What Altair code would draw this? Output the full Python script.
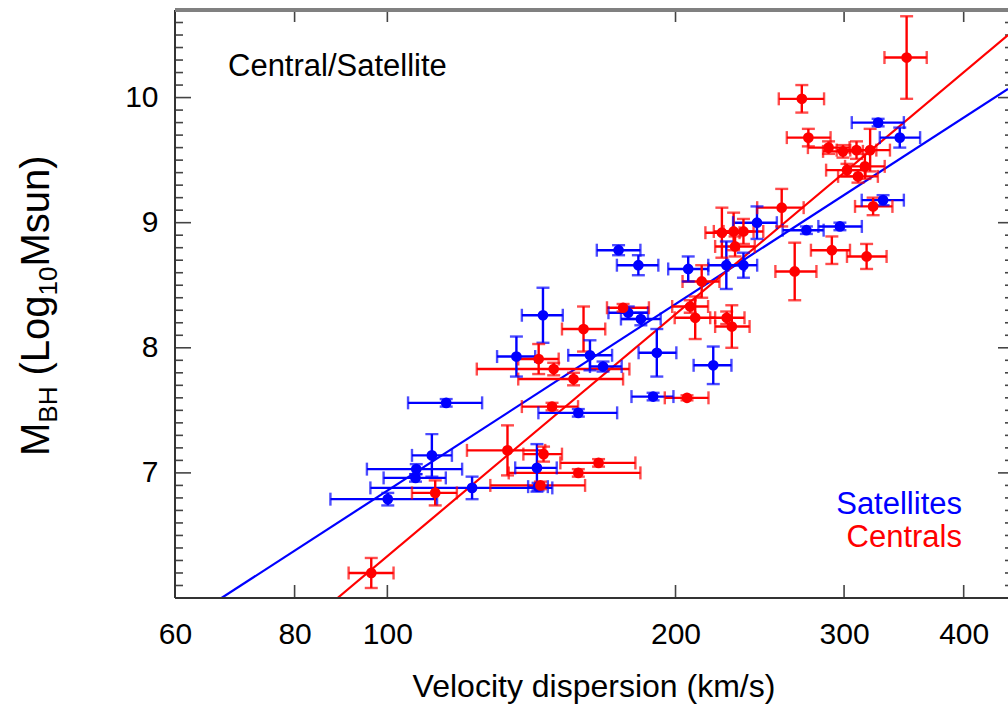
import altair as alt
import pandas as pd

# ---------------- data ----------------
# Satellites (blue)
sat_sigma  = [115.2, 111.3, 107.2, 107.0, 100.1, 122.6, 143.3, 143.7, 145.4, 136.4,
              162.8, 168.0, 158.3, 174.4, 182.9, 178.5, 184.0, 191.2, 189.5, 206.2,
              219.0, 226.0, 235.5, 243.3, 274.0, 297.0, 329.5, 325.6, 343.0]
sat_logm   = [7.56, 7.14, 7.03, 6.96, 6.79, 6.88, 7.04, 6.89, 8.26, 7.93,
              7.94, 7.85, 7.48, 8.78, 8.66, 8.28, 8.23, 7.96, 7.61, 8.63,
              7.86, 8.66, 8.66, 9.00, 8.94, 8.97, 9.18, 9.80, 9.68]
sat_sig_lo = [105.1, 106.1, 95.2, 99.1, 87.2, 96.0, 136.0, 140.3, 138.2, 130.2,
              154.5, 162.8, 143.8, 165.5, 173.7, 170.2, 175.4, 183.0, 179.9, 196.5,
              208.9, 216.4, 227.0, 229.7, 258.8, 282.0, 313.0, 305.6, 326.9]
sat_sig_hi = [125.6, 116.8, 119.7, 115.1, 112.7, 148.7, 150.3, 147.1, 152.5, 142.7,
              171.7, 175.7, 173.8, 183.8, 191.9, 187.2, 193.0, 200.4, 199.0, 216.4,
              228.8, 236.1, 243.4, 255.2, 285.6, 313.1, 346.4, 346.4, 360.2]
sat_merr   = [0.03, 0.17, 0.04, 0.03, 0.05, 0.09, 0.19, 0.03, 0.22, 0.16,
              0.12, 0.04, 0.03, 0.04, 0.08, 0.05, 0.05, 0.19, 0.03, 0.10,
              0.15, 0.19, 0.10, 0.13, 0.03, 0.03, 0.04, 0.03, 0.08]

# Centrals (red)
cen_sigma  = [96.2, 112.2, 133.5, 145.6, 144.5, 158.3, 166.2, 148.6, 143.9, 149.2,
              156.5, 160.3, 176.3, 205.6, 207.2, 209.7, 213.0, 226.2, 229.0, 223.6,
              230.0, 235.5, 230.8, 258.2, 266.4, 271.0, 275.3, 289.0, 299.2, 309.1,
              319.4, 302.1, 315.4, 310.2, 291.3, 316.7, 321.7, 348.7]
cen_logm   = [6.20, 6.84, 7.18, 7.15, 6.90, 7.00, 7.08, 7.53, 7.91, 7.83,
              7.75, 8.15, 8.32, 7.60, 8.33, 8.24, 8.53, 8.24, 8.17, 8.92,
              8.93, 8.93, 8.81, 9.12, 8.61, 9.99, 9.68, 9.60, 9.57, 9.58,
              9.58, 9.42, 9.45, 9.37, 8.78, 8.73, 9.13, 10.32]
cen_sig_lo = [91.1, 106.1, 121.1, 138.7, 128.1, 133.9, 151.6, 138.2, 137.0, 124.0,
              137.0, 152.2, 169.6, 194.9, 198.4, 199.6, 203.4, 217.4, 220.0, 214.9,
              219.3, 224.5, 220.0, 243.4, 254.3, 256.4, 261.4, 275.0, 285.2, 294.7,
              304.5, 287.3, 300.7, 295.7, 277.0, 302.1, 308.0, 330.6]
cen_sig_hi = [101.5, 118.2, 146.2, 152.2, 160.9, 183.8, 181.6, 158.2, 151.0, 179.0,
              176.3, 168.9, 187.6, 216.5, 216.3, 220.0, 222.3, 236.1, 239.0, 233.3,
              241.3, 247.0, 242.0, 272.2, 280.7, 285.9, 290.4, 304.0, 313.9, 324.2,
              335.0, 316.0, 330.8, 325.4, 304.3, 332.3, 337.0, 366.0]
cen_merr   = [0.12, 0.10, 0.20, 0.06, 0.03, 0.03, 0.03, 0.03, 0.12, 0.05,
              0.05, 0.18, 0.03, 0.02, 0.05, 0.17, 0.13, 0.05, 0.17, 0.20,
              0.15, 0.10, 0.08, 0.15, 0.23, 0.11, 0.07, 0.05, 0.05, 0.07,
              0.17, 0.05, 0.10, 0.05, 0.11, 0.10, 0.07, 0.33]

# fitted relations (end points)
fit_sat_sigma = [67.1, 445.0]
fit_sat_logm  = [6.00, 10.07]
fit_cen_sigma = [88.7, 445.0]
fit_cen_logm  = [6.00, 10.50]

# axis ticks
x_tick_values = [60, 80, 100, 200, 300, 400]
y_tick_values = [7, 8, 9, 10]
y_minor_values = [round(6.0 + 0.1 * i, 1) for i in range(1, 48)]

# ---------------- build tables ----------------
groups = ["Satellites", "Centrals"]
colors = ["#0000ff", "#ff0000"]

rows = []
for g, s, m, lo, hi, e in [("Satellites", sat_sigma, sat_logm, sat_sig_lo, sat_sig_hi, sat_merr),
                           ("Centrals", cen_sigma, cen_logm, cen_sig_lo, cen_sig_hi, cen_merr)]:
    for i in range(len(s)):
        rows.append({"group": g, "sigma": s[i], "logm": m[i], "slo": lo[i], "shi": hi[i],
                     "mlo": m[i] - e[i], "mhi": m[i] + e[i]})
df = pd.DataFrame(rows)

fit_df = pd.DataFrame({
    "group": ["Satellites"] * 2 + ["Centrals"] * 2,
    "sigma": fit_sat_sigma + fit_cen_sigma,
    "logm": fit_sat_logm + fit_cen_logm,
})

W, H = 833, 588
FONT = "Liberation Sans"

xscale = alt.Scale(type="log", domain=[60, 445], nice=False)
yscale = alt.Scale(domain=[6.0, 10.7], nice=False, zero=False)
color = alt.Color("group:N", scale=alt.Scale(domain=groups, range=colors), legend=None)

xaxis = alt.Axis(values=x_tick_values, format="d", title=None, grid=False, ticks=False,
                 domain=False, labelFontSize=30, labelFont=FONT, labelColor="black",
                 labelPadding=21, labelFlush=False, labelOverlap=False)
yaxis = alt.Axis(values=y_tick_values, format="d", title=None, grid=False, ticks=False,
                 domain=False, labelFontSize=30, labelFont=FONT, labelColor="black",
                 labelPadding=17)

def X(f):
    return alt.X(f, type="quantitative", scale=xscale, axis=xaxis)

def Y(f):
    return alt.Y(f, type="quantitative", scale=yscale, axis=yaxis)

base = alt.Chart(df)
SW = 2.4
CAP = 13

xerr = base.mark_rule(strokeWidth=SW).encode(x=X("slo"), x2="shi", y=Y("logm"), color=color)
yerr = base.mark_rule(strokeWidth=SW).encode(x=X("sigma"), y=Y("mlo"), y2="mhi", color=color)
cap_xlo = base.mark_tick(orient="vertical", size=CAP, thickness=SW).encode(x=X("slo"), y=Y("logm"), color=color)
cap_xhi = base.mark_tick(orient="vertical", size=CAP, thickness=SW).encode(x=X("shi"), y=Y("logm"), color=color)
cap_ylo = base.mark_tick(orient="horizontal", size=CAP, thickness=SW).encode(x=X("sigma"), y=Y("mlo"), color=color)
cap_yhi = base.mark_tick(orient="horizontal", size=CAP, thickness=SW).encode(x=X("sigma"), y=Y("mhi"), color=color)
pts = base.mark_circle(size=115, opacity=1).encode(x=X("sigma"), y=Y("logm"), color=color)

fits = alt.Chart(fit_df).mark_line(strokeWidth=2.2, clip=True).encode(
    x=X("sigma"), y=Y("logm"), color=color, detail="group:N")

# frame and inward ticks
TICK = "#444444"
ymaj = alt.Chart(pd.DataFrame({"v": y_tick_values}))
ymin = alt.Chart(pd.DataFrame({"v": [v for v in y_minor_values if v not in y_tick_values]}))
xmaj = alt.Chart(pd.DataFrame({"v": x_tick_values}))

ticks = [
    ymaj.mark_rule(color=TICK, strokeWidth=1.6).encode(y=Y("v"), x=alt.value(0), x2=alt.value(16)),
    ymin.mark_rule(color=TICK, strokeWidth=1.6).encode(y=Y("v"), x=alt.value(0), x2=alt.value(8)),
    ymaj.mark_rule(color=TICK, strokeWidth=1.6).encode(y=Y("v"), x=alt.value(W - 10), x2=alt.value(W)),
    ymin.mark_rule(color=TICK, strokeWidth=1.6).encode(y=Y("v"), x=alt.value(W - 3), x2=alt.value(W)),
    xmaj.mark_rule(color=TICK, strokeWidth=1.6).encode(x=X("v"), y=alt.value(H - 13), y2=alt.value(H)),
    xmaj.mark_rule(color=TICK, strokeWidth=1.6).encode(x=X("v"), y=alt.value(0), y2=alt.value(12)),
]

one = alt.Chart(pd.DataFrame({"a": [0]}))
frame = [
    one.mark_rule(color="#333333", strokeWidth=2).encode(x=alt.value(0), y=alt.value(0), y2=alt.value(H)),
    one.mark_rule(color="#333333", strokeWidth=2).encode(x=alt.value(0), x2=alt.value(W), y=alt.value(H)),
    one.mark_rule(color="#808080", strokeWidth=4).encode(x=alt.value(0), x2=alt.value(W), y=alt.value(0)),
]

def txt(s, x, y, size, col="black", align="left", angle=0):
    return alt.Chart(pd.DataFrame({"t": [s]})).mark_text(
        font=FONT, fontSize=size, color=col, align=align, baseline="alphabetic", angle=angle
    ).encode(text="t:N", x=alt.value(x), y=alt.value(y))

labels = [
    txt("Central/Satellite", 53, 66, 31),
    txt("Satellites", 787, 504, 31, col="#0000ff", align="right"),
    txt("Centrals", 787, 537, 31, col="#ff0000", align="right"),
    txt("Velocity dispersion (km/s)", 419, 687, 32, align="center"),
]

# rotated y title with subscripts: (text, font size, baseline shift, gap before, width)
ybase_x = -126
y0 = 446
pieces = [("M", 40, 0, 0.0, 33.3), ("BH", 26, 8, 0.0, 36.1), ("(Log", 40, 0, 11.1, 80.0),
          ("10", 26, 8, 0.0, 28.9), ("Msun)", 40, 0, 0.0, 111.1)]
ytitle = []
pos = y0
for s, size, shift, gap, wdt in pieces:
    pos -= gap
    ytitle.append(txt(s, ybase_x + shift, pos, size, angle=270))
    pos -= wdt

chart = alt.layer(
    *ticks, fits, xerr, yerr, cap_xlo, cap_xhi, cap_ylo, cap_yhi, pts, *frame, *labels, *ytitle
).properties(
    width=W, height=H,
    autosize=alt.AutoSizeParams(type="none"),
    padding={"left": 175, "top": 10, "right": 0, "bottom": 108},
    background="white",
).configure_view(stroke=None)

chart.save("out.html", embed_options={"renderer": "svg", "actions": False})
